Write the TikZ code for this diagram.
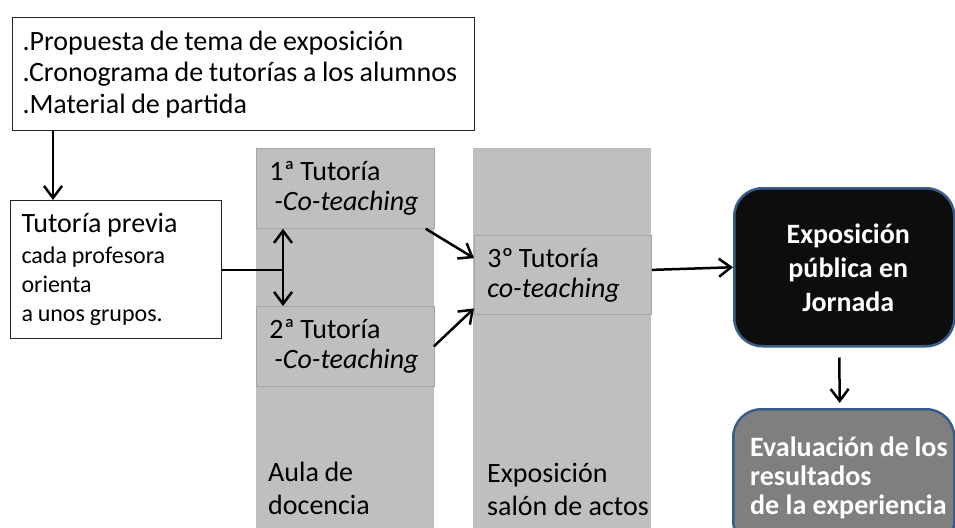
\documentclass[tikz,border=0pt]{standalone}
\usepackage{fontspec}
\setmainfont{Carlito}
\usetikzlibrary{arrows.meta,calc}
\definecolor{colgray}{RGB}{191,191,191}
\definecolor{boxline}{RGB}{165,165,165}
\definecolor{darkfill}{RGB}{13,13,13}
\definecolor{midfill}{RGB}{127,127,127}
\definecolor{blueline}{RGB}{56,93,138}
\newcommand{\tightsp}{\spaceskip=0.2em plus 0.05em\relax\xspaceskip=0.2em\relax}
\tikzset{
  wbox/.style={draw=black!85, line width=1pt, fill=white, anchor=north west, align=left, inner xsep=10pt, inner ysep=0pt},
  gbox/.style={draw=boxline, line width=0.8pt, fill=colgray, anchor=north west, align=left, inner xsep=13pt, inner ysep=0pt, font=\fontsize{28}{30}\selectfont},
  rbox/.style={draw=blueline, line width=2.5pt, rounded corners=28pt, anchor=north west, inner sep=0pt},
  wtext/.style={text=white, font=\bfseries\fontsize{28}{34}\selectfont, inner sep=0pt},
  collabel/.style={anchor=north west, align=left, inner sep=0pt, font=\fontsize{28}{33}\selectfont},
  arr/.style={line width=2.5pt, -{Straight Barb[length=12pt,width=18pt]}},
  darr/.style={line width=2.5pt, {Straight Barb[length=12pt,width=18pt]}-{Straight Barb[length=12pt,width=18pt]}},
}
\begin{document}
\begin{tikzpicture}[x=1pt,y=-1pt]
\useasboundingbox (0,0) rectangle (955,527);
\clip (0,0) rectangle (955,527);
% columns
\fill[colgray] (256,148) rectangle (434,540);
\fill[colgray] (473,148) rectangle (651,540);
% top box
\node[wbox, text height=33pt, text depth=80pt, text width=442pt, font=\fontsize{28}{31.5}\selectfont] (top) at (12,17)
  {\tightsp .Propuesta de tema de exposición\\.Cronograma de tutorías a los alumnos\\.Material de partida};
% previous tutoring
\node[wbox, text height=32pt, text depth=106pt, text width=189pt, inner xsep=11pt, font=\fontsize{24}{29}\selectfont] (prev) at (10,200)
  {{\fontsize{28}{31}\selectfont\tightsp Tutoría previa\par}\vspace{2pt}
   \tightsp cada profesora\par orienta\par a unos grupos.};
% tutorials
\node[gbox, minimum height=80pt, text width=152pt] (t1) at (256,148) {\tightsp 1ª Tutoría\\\hspace*{5pt}\itshape -Co-teaching};
\node[gbox, minimum height=80pt, text width=152pt] (t2) at (256,306) {\tightsp 2ª Tutoría\\\hspace*{5pt}\itshape -Co-teaching};
\node[gbox, minimum height=79pt, text width=151pt] (t3) at (474,235) {\tightsp 3º Tutoría\\\itshape co-teaching};
% column labels
\node[collabel] (lab1) at (268,462) {\tightsp Aula de\\docencia};
\node[collabel] (lab2) at (487,463) {\tightsp Exposición\\salón de actos};
% rounded boxes
\node[rbox, fill=darkfill, minimum width=220pt, minimum height=158pt] (expo) at (733,187) {};
\node[wtext, align=center] (expotxt) at ($(expo.center)+(4,1)$) {\tightsp Exposición\\pública en\\Jornada};
\node[rbox, fill=midfill, minimum width=221pt, minimum height=140pt] (eval) at (732,408) {};
\node[wtext, align=left, anchor=north west, font=\bfseries\fontsize{28}{29}\selectfont] (evaltxt) at ($(eval.north west)+(18,29)$)
  {\tightsp Evaluación de los\\resultados\\de la experiencia};
% connectors
\coordinate (j) at (283,270);
\coordinate (dn) at (53,130);
\draw[line width=2.5pt] (prev.east |- j) -- (j);
\draw[darr] (t1.south -| j) -- (t2.north -| j);
\draw[arr] ($(t1.south east)+(-9,0)$) -- ($(t3.north west)!0.29!(t3.south west)$);
\draw[arr] ($(t2.east)+(-1,0)$) -- ($(t3.north west)!0.92!(t3.south west)$);
\draw[arr] ($(t3.east)+(0,-5)$) -- (expo.west);
\draw[arr] ($(expo.south)+(-5,10)$) -- ($(eval.north)+(-4,-5)$);
\draw[arr] (dn) -- (prev.north -| dn);
\end{tikzpicture}
\end{document}
